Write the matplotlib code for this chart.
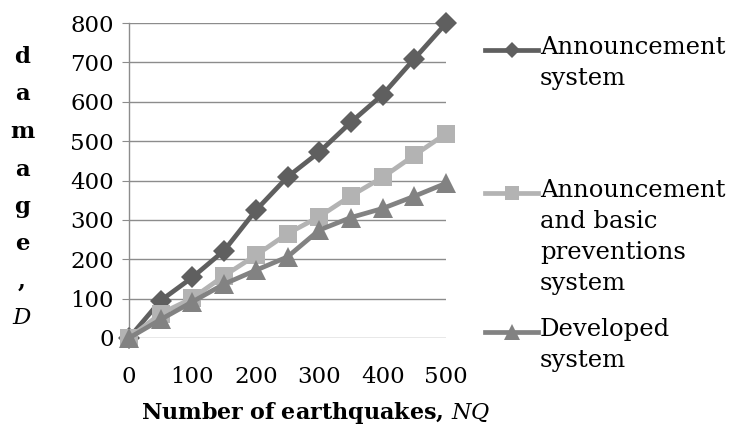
import matplotlib
matplotlib.use("Agg")
import matplotlib.pyplot as plt
from matplotlib.lines import Line2D

# number of earthquakes (categories) and damage per system
NQ = [0, 50, 100, 150, 200, 250, 300, 350, 400, 450, 500]
X_TICKS = [0, 100, 200, 300, 400, 500]
Y_TICKS = [0, 100, 200, 300, 400, 500, 600, 700, 800]

ANNOUNCE = [0, 95, 154, 222, 324, 409, 472, 548, 618, 709, 799]
ANNOUNCE_BASIC = [0, 62, 101, 158, 210, 265, 308, 361, 408, 464, 519]
DEVELOPED = [0, 47, 92, 137, 172, 206, 274, 306, 329, 360, 393]

LABELS = ["Announcement\nsystem",
          "Announcement\nand basic\npreventions\nsystem",
          "Developed\nsystem"]

SERIES = [
    (ANNOUNCE,       "#5f5f5f", "D", 11),
    (ANNOUNCE_BASIC, "#b3b3b3", "s", 13),
    (DEVELOPED,      "#828282", "^", 15),
]

plt.rcParams["font.family"] = "DejaVu Serif"
plt.rcParams["mathtext.fontset"] = "dejavuserif"

FS = 16.5
W, H = 733, 433
fig = plt.figure(figsize=(W / 100, H / 100), dpi=100)
ax = fig.add_axes([129 / W, (H - 338) / H, 317 / W, 315 / H])

for ys, col, mk, ms in SERIES:
    ax.plot(NQ, ys, color=col, linewidth=3.4, marker=mk, markersize=ms,
            markeredgewidth=0, clip_on=False, zorder=3)

ax.set_xlim(0, 500)
ax.set_ylim(0, 800)
ax.set_xticks(X_TICKS)
ax.set_yticks(Y_TICKS)
ax.tick_params(axis="x", length=0, labelsize=FS, pad=20)
ax.tick_params(axis="y", length=5, color="#8c8c8c", labelsize=FS, pad=6)
ax.yaxis.grid(True, color="#8c8c8c", linewidth=1.0)
ax.set_axisbelow(True)
for s in ("top", "right", "bottom"):
    ax.spines[s].set_visible(False)
ax.spines["left"].set_color("#8c8c8c")
ax.spines["left"].set_linewidth(1.0)

# x axis title, centred a little right of the plot area
fig.text(316 / W, 1 - 413 / H,
         r"$\mathbf{Number\ of\ earthquakes,}\,\mathit{NQ}$",
         fontsize=16, ha="center", va="center")

# stacked vertical y label
ylab = ["d", "a", "m", "a", "g", "e", ","]
for i, ch in enumerate(ylab):
    fig.text(22 / W, 1 - (57 + i * 37.5) / H, ch, fontsize=FS,
             fontweight="bold", ha="center", va="center")
fig.text(22 / W, 1 - 318 / H, "D", fontsize=FS, style="italic",
         ha="center", va="center")

# legend keys with multi-line labels
key_y = [50, 193, 332]
for (ys, col, mk, ms), lab, ky in zip(SERIES, LABELS, key_y):
    yf = 1 - ky / H
    fig.add_artist(Line2D([485 / W, 538 / W], [yf, yf], color=col,
                          linewidth=3.4, transform=fig.transFigure))
    fig.add_artist(Line2D([511.5 / W], [yf], color=col, marker=mk,
                          markersize=ms * 0.75, markeredgewidth=0,
                          transform=fig.transFigure))
    fig.text(540 / W, 1 - (ky - 14) / H, lab, fontsize=17.5, ha="left",
             va="top", linespacing=1.45)

fig.savefig("out.png", dpi=100)
